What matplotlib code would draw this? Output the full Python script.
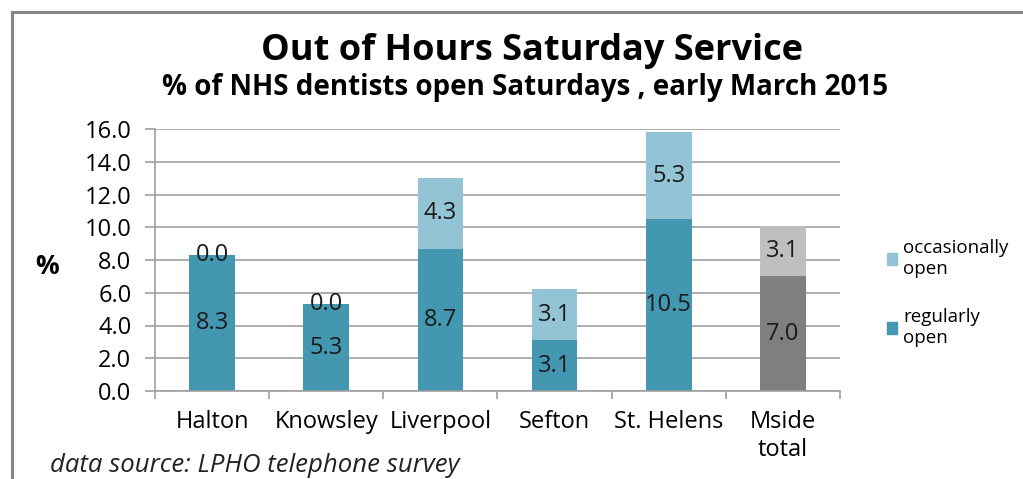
import matplotlib
matplotlib.use('Agg')
import matplotlib.pyplot as plt
from matplotlib.patches import Rectangle, Patch

areas = ['Halton', 'Knowsley', 'Liverpool', 'Sefton', 'St. Helens', 'Mside\ntotal']
regular = [8.3, 5.3, 8.7, 3.1, 10.5, 7.0]
occasional = [0.0, 0.0, 4.3, 3.1, 5.3, 3.1]

reg_col = ['#4397b0'] * 5 + ['#7f7f7f']
occ_col = ['#93c4d5'] * 5 + ['#bfbfbf']

plt.rcParams['font.family'] = ['Open Sans', 'DejaVu Sans']

fig = plt.figure(figsize=(10.23, 4.79), dpi=100)
# outer chart frame
fig.patches.append(Rectangle((12 / 1023, -0.1), 1.2, (479 - 12) / 479 + 0.1,
                             transform=fig.transFigure, fill=False,
                             edgecolor='#878787', linewidth=2.2))

ax = fig.add_axes([155 / 1023, 1 - 391 / 479, (840 - 155) / 1023, (391 - 129) / 479])
x = range(len(areas))
w = 0.4
ax.bar(x, regular, w, color=reg_col, zorder=2)
ax.bar(x, occasional, w, bottom=regular, color=occ_col, zorder=2)

for i in x:
    ax.text(i, regular[i] / 2, '%.1f' % regular[i], ha='center', va='center',
            fontsize=17, color='#1a1a1a', zorder=3)
    ax.text(i, regular[i] + occasional[i] / 2, '%.1f' % occasional[i], ha='center',
            va='center', fontsize=17, color='#1a1a1a', zorder=3)

ax.set_xlim(-0.5, len(areas) - 0.5)
ax.set_ylim(0, 16)
ax.set_yticks([0, 2, 4, 6, 8, 10, 12, 14, 16])
ax.set_yticklabels(['%.1f' % v for v in ax.get_yticks()], fontsize=17)
ax.set_xticks(list(x))
ax.set_xticklabels(areas, fontsize=17, va='top', linespacing=1.2)
ax.set_xticks([i - 0.5 for i in range(len(areas) + 1)], minor=True)
ax.tick_params(axis='x', which='major', length=0, pad=14)
ax.tick_params(axis='x', which='minor', length=6, color='#a0a0a0', width=1.2, direction='out')
ax.tick_params(axis='y', length=7, color='#a0a0a0', width=1.2, pad=10)
ax.grid(axis='y', color='#a0a0a0', linewidth=1.2, zorder=0)
for s in ['top', 'right']:
    ax.spines[s].set_visible(False)
ax.spines['left'].set_color('#a0a0a0')
ax.spines['bottom'].set_color('#a0a0a0')
ax.spines['left'].set_linewidth(1.2)
ax.spines['bottom'].set_linewidth(1.2)

fig.text(532 / 1023, 1 - 51 / 479, 'Out of Hours Saturday Service', ha='center', va='center',
         fontsize=26, fontweight='bold')
fig.text(525 / 1023, 1 - 88 / 479, '% of NHS dentists open Saturdays , early March 2015',
         ha='center', va='center', fontsize=20, fontweight='bold')
fig.text(47 / 1023, 1 - 267 / 479, '%', ha='center', va='center', fontsize=19, fontweight='bold')
fig.text(50 / 1023, 1 - 466 / 479, 'data source: LPHO telephone survey', ha='left', va='center',
         fontsize=18.5, style='italic', color='#222222')

handles = [Patch(color='#93c4d5', label='occasionally\nopen'),
           Patch(color='#4397b0', label='regularly\nopen')]
fig.legend(handles=handles, loc='upper left', bbox_to_anchor=(887 / 1023, 1 - 239 / 479),
           frameon=False, fontsize=13.5, handlelength=0.55, handleheight=0.6,
           handletextpad=0.3, labelspacing=1.6, borderaxespad=0, borderpad=0)

fig.savefig('out.png', dpi=100)
